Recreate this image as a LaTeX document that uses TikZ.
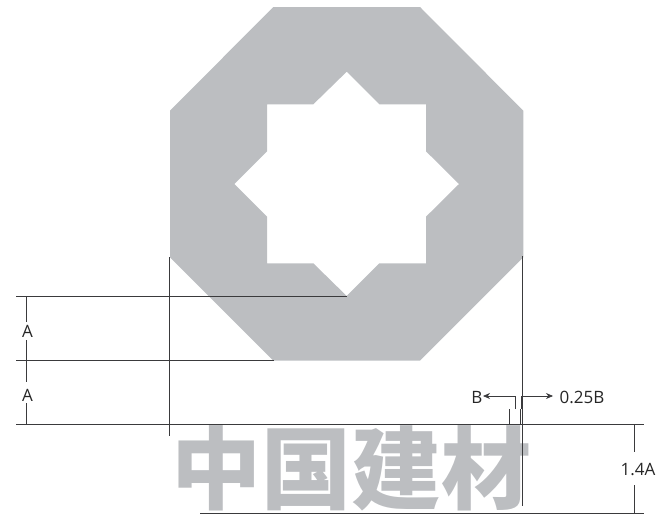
\documentclass[tikz,border=0pt]{standalone}
\usepackage{fontspec}
\setmainfont{Open Sans}
\newfontfamily\cjkwm{Noto Sans CJK SC Black}
\definecolor{wmgray}{HTML}{BCBEC1}
\definecolor{linegray}{HTML}{3A3A3C}
\tikzset{
  dimline/.style={draw=linegray,line width=0.7pt},
  dimlabel/.style={font=\fontsize{17}{19}\selectfont,text=black!85,inner sep=0pt,anchor=center},
  dimarrow/.style={dimline,-{Stealth[length=7pt,width=6pt]}},
}
\usetikzlibrary{arrows.meta}
\begin{document}
\begin{tikzpicture}[x=1pt,y=-1pt]
\useasboundingbox (0,0) rectangle (666,514);
% octagon with star hole
\fill[wmgray,even odd rule]
  (273.3,7) -- (420,7) -- (523.3,110.7) -- (523.3,257.3) -- (420,360.7) -- (273.3,360.7) -- (170,257.3) -- (170,110.7) -- cycle
  (346.7,71.7) -- (379.3,104.3) -- (426,104.3) -- (426,151.3) -- (459,184) -- (426,216.7) -- (426,263.3) -- (379.3,263.3) -- (346.7,296) -- (313.3,263.3) -- (267,263.3) -- (267,216.7) -- (234.3,184) -- (267,151.3) -- (267,104.3) -- (313.3,104.3) -- cycle;
% watermark
\node[text=wmgray,font={\cjkwm\fontsize{90}{90}\selectfont},inner sep=0pt,anchor=center] (wm) at (351,468) {中国建材};
% free ends
\coordinate (h1l) at (16,296); \coordinate (h1r) at (347,296);
\coordinate (h2l) at (16,360.4); \coordinate (h2r) at (273.5,360.4);
\coordinate (h3l) at (16,424.7); \coordinate (h3r) at (644,424.7);
\coordinate (h4l) at (200,513.2); \coordinate (h4r) at (644,513.2);
\coordinate (v1t) at (169.5,257); \coordinate (v1b) at (169.5,435.7);
\coordinate (v2t) at (522.7,256); \coordinate (v2b) at (522.7,506);
\draw[dimline] (h1l) -- (h1r);
\draw[dimline] (h2l) -- (h2r);
\draw[dimline] (h3l) -- (h3r);
\draw[dimline] (h4l) -- (h4r);
\draw[dimline] (v1t) -- (v1b);
\draw[dimline] (v2t) -- (v2b);
% A dims
\node[dimlabel] (a1) at (27.5,331) {A};
\node[dimlabel] (a2) at (27.5,395.5) {A};
\coordinate (a1t) at (26.7,296); \coordinate (a1m) at (26.7,360.4); \coordinate (a2b) at (26.7,424.7);
\draw[dimline] (a1t) -- (26.7,322);
\draw[dimline] (26.7,340) -- (26.7,382);
\draw[dimline] (26.7,403) -- (a2b);
% 1.4A
\node[dimlabel] (d14) at (638,470) {1.4A};
\coordinate (d14t) at (634,424.7); \coordinate (d14b) at (634,513.2);
\draw[dimline] (d14t) -- (634,452);
\draw[dimline] (634,485) -- (d14b);
% B
\node[dimlabel] (lb) at (477,397) {B};
\node[dimlabel] (lq) at (582,397) {0.25B};
\coordinate (t1t) at (509,409); \coordinate (t1b) at (509,424.7);
\coordinate (t2t) at (520.3,409); \coordinate (t2b) at (520.3,424.7);
\draw[dimline] (t1t) -- (t1b);
\draw[dimline] (t2t) -- (t2b);
\draw[dimarrow] (515.3,409) -- (515.3,396) -- (483,396);
\draw[dimarrow] (521.3,409) -- (521.3,396) -- (553,396);
\end{tikzpicture}
\end{document}
